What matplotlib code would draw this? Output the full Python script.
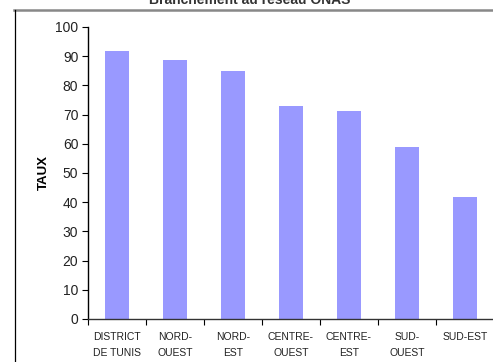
import matplotlib
matplotlib.use("Agg")
import matplotlib.pyplot as plt
from matplotlib.lines import Line2D

categories = ["DISTRICT\nDE TUNIS", "NORD-\nOUEST", "NORD-\nEST", "CENTRE-\nOUEST",
              "CENTRE-\nEST", "SUD-\nOUEST", "SUD-EST"]
values = [91.8, 88.6, 84.9, 72.8, 71.1, 59.0, 41.9]
yticks = [0, 10, 20, 30, 40, 50, 60, 70, 80, 90, 100]
title = "Branchement au réseau ONAS"
ylabel = "TAUX"

plt.rcParams['font.family'] = ['Liberation Sans', 'DejaVu Sans']

fig = plt.figure(figsize=(4.93, 3.62), dpi=100)
W, H = 493, 362
ax = fig.add_axes([88 / W, 1 - 319 / H, (494 - 88) / W, (319 - 27) / H])

x = list(range(len(categories)))
ax.bar(x, values, width=0.43, color="#9999FF", edgecolor="none", zorder=2)
ax.set_xlim(-0.5, len(categories) - 0.5)
ax.set_ylim(0, 100)
ax.set_yticks(yticks)
ax.set_yticklabels([str(t) for t in yticks], fontsize=10)
ax.tick_params(axis='y', direction='out', length=4, width=0.8, pad=3, colors='black')
for t in ax.get_yticklabels():
    t.set_color('#222222')

ax.set_xticks([i - 0.5 for i in range(len(categories) + 1)])
ax.set_xticklabels([])
ax.tick_params(axis='x', direction='out', length=4, width=0.8)
for i, lab in enumerate(categories):
    ax.text(i, -4.6, lab, ha='center', va='top', fontsize=7.5, linespacing=1.75,
            color='#222222', family=['Liberation Sans Narrow', 'Liberation Sans'])

for s in ['top', 'right']:
    ax.spines[s].set_visible(False)
ax.spines['left'].set_linewidth(1.0)
ax.spines['bottom'].set_linewidth(1.0)
ax.spines['bottom'].set_color('#333333')

ax.set_ylabel(ylabel, fontsize=9.5, fontweight='bold', labelpad=4)

# frame lines
fig.add_artist(Line2D([14 / W, 1.0], [1 - 10 / H, 1 - 10 / H], transform=fig.transFigure,
                      color='#888888', linewidth=1.8))
fig.add_artist(Line2D([14.5 / W, 14.5 / W], [1 - 10 / H, 0], transform=fig.transFigure,
                      color='black', linewidth=0.9))

fig.text(250 / W, 1 - 0.5 / H, title, ha='center', va='center', fontsize=10,
         fontweight='bold', color='#333333')

fig.savefig("out.png", dpi=100)
